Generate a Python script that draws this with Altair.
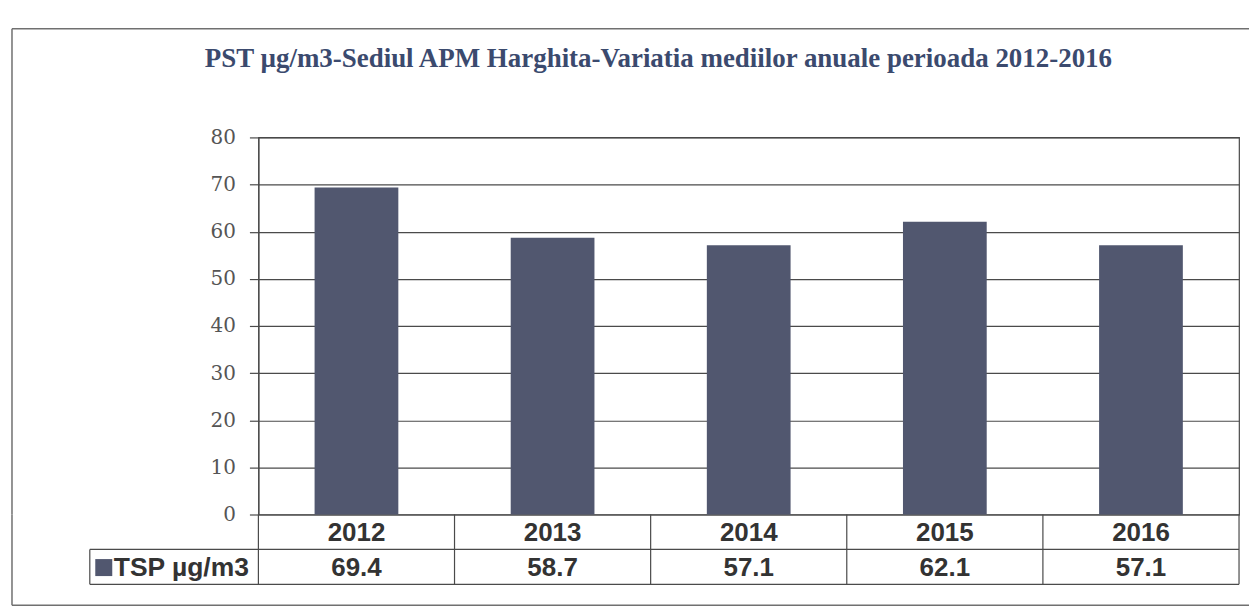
import altair as alt
import pandas as pd

# ---- data ----
years = ["2012", "2013", "2014", "2015", "2016"]
values = [69.4, 58.7, 57.1, 62.1, 57.1]
series_name = "TSP µg/m3"
title_text = "PST µg/m3-Sediul APM Harghita-Variatia mediilor anuale perioada 2012-2016"
y_ticks = [0, 10, 20, 30, 40, 50, 60, 70, 80]

BAR = "#51576f"
LINE = "#4a4a4a"
FRAME = "#707070"
W = 983
H = 378
TH = 70

df = pd.DataFrame({"year": years, "value": values})
tbl = pd.DataFrame({
    "year": years,
    "label": [f"{v:.1f}" for v in values],
    "xc": [i + 0.5 for i in range(len(years))],
})

# ---------- top: bar chart ----------
bars = alt.Chart(df).mark_bar(color=BAR).encode(
    x=alt.X("year:N", axis=None, sort=years,
            scale=alt.Scale(paddingInner=0.573, paddingOuter=0.2865)),
    y=alt.Y("value:Q", scale=alt.Scale(domain=[0, 80], nice=False),
            axis=alt.Axis(values=y_ticks, title=None, grid=True,
                          gridColor=LINE, gridWidth=1.2, gridOpacity=1,
                          domainColor=LINE, domainWidth=1.2,
                          tickColor=LINE, tickSize=9, tickWidth=1.2,
                          labelPadding=14, labelFont="DejaVu Serif",
                          labelFontSize=20, labelColor="#555555")),
)

one = pd.DataFrame({"k": [0]})
title_df = pd.DataFrame({"t": [title_text]})
title_mark = alt.Chart(title_df).mark_text(
    font="Liberation Serif", fontSize=27, fontWeight="bold", color="#3b4a6e",
    align="center", baseline="middle").encode(
    x=alt.value(401), y=alt.value(-79), text="t:N")

frame_top = alt.Chart(one).mark_rule(color=FRAME, strokeWidth=1.5).encode(
    x=alt.value(-247), x2=alt.value(993), y=alt.value(-109))
frame_left_top = alt.Chart(one).mark_rule(color=FRAME, strokeWidth=1.5).encode(
    x=alt.value(-247), y=alt.value(-109), y2=alt.value(H))

top = alt.layer(frame_top, frame_left_top, title_mark, bars).properties(width=W, height=H)

# ---------- bottom: data table ----------
xs = alt.Scale(domain=[0, len(years)], nice=False, zero=False)
ys = alt.Scale(domain=[0, 2], nice=False, reverse=True)

vlines = pd.DataFrame({"xb": list(range(len(years) + 1)), "y0": 0, "y1": 2})
v_rules = alt.Chart(vlines).mark_rule(color=LINE, strokeWidth=1.2).encode(
    x=alt.X("xb:Q", scale=xs, axis=None),
    y=alt.Y("y0:Q", scale=ys, axis=None), y2="y1:Q")

hlines = pd.DataFrame({"yb": [1, 2]})
h_rules = alt.Chart(hlines).mark_rule(color=LINE, strokeWidth=1.2).encode(
    x=alt.value(-169), x2=alt.value(W),
    y=alt.Y("yb:Q", scale=ys, axis=None))

leg_line = alt.Chart(pd.DataFrame({"y0": [1], "y1": [2]})).mark_rule(
    color=LINE, strokeWidth=1.2).encode(
    x=alt.value(-169), y=alt.Y("y0:Q", scale=ys, axis=None), y2="y1:Q")

year_txt = alt.Chart(tbl).mark_text(
    font="Liberation Sans", fontWeight="bold", fontSize=26, color="#333333",
    baseline="middle", align="center").encode(
    x=alt.X("xc:Q", scale=xs, axis=None), y=alt.datum(0.52), text="year:N")

val_txt = alt.Chart(tbl).mark_text(
    font="Liberation Sans", fontWeight="bold", fontSize=26, color="#333333",
    baseline="middle", align="center").encode(
    x=alt.X("xc:Q", scale=xs, axis=None), y=alt.datum(1.52), text="label:N")

leg_df = pd.DataFrame({"name": [series_name]})
leg_sq = alt.Chart(leg_df).mark_square(color=BAR, size=290, opacity=1).encode(
    x=alt.value(-155), y=alt.datum(1.52))
leg_txt = alt.Chart(leg_df).mark_text(
    font="Liberation Sans", fontWeight="bold", fontSize=26.5, color="#333333",
    baseline="middle", align="left").encode(
    x=alt.value(-145), y=alt.datum(1.52), text="name:N")

frame_left_bot = alt.Chart(one).mark_rule(color=FRAME, strokeWidth=1.5).encode(
    x=alt.value(-247), y=alt.value(0), y2=alt.value(91))
frame_bot = alt.Chart(one).mark_rule(color=FRAME, strokeWidth=1.5).encode(
    x=alt.value(-247), x2=alt.value(993), y=alt.value(91))

bottom = alt.layer(v_rules, h_rules, leg_line, year_txt, val_txt, leg_sq,
                   leg_txt, frame_left_bot, frame_bot).properties(
    width=W, height=TH, view=alt.ViewConfig(stroke=None))

chart = alt.vconcat(top, bottom, spacing=0, bounds="flush").properties(
    padding={"top": 18, "left": 2, "right": 0, "bottom": 3},
).configure_view(stroke=LINE, strokeWidth=1.2)

chart.save("out.html", embed_options={"renderer": "svg", "actions": False})
